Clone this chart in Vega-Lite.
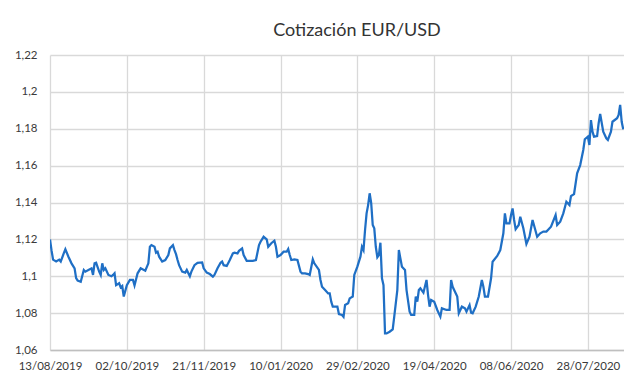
{
  "$schema": "https://vega.github.io/schema/vega-lite/v6.json",
  "width": 574,
  "height": 295,
  "autosize": "none",
  "padding": {"left": 50, "top": 55, "right": 0, "bottom": 35},
  "background": "white",
  "config": {"view": {"stroke": null}, "font": "Lato"},
  "title": {"text": "Cotización EUR/USD", "font": "Lato", "fontSize": 18, "fontWeight": "normal", "color": "#333333", "anchor": "middle", "dx": 20, "dy": 17, "baseline": "alphabetic", "offset": 12},
  "data": {
    "format": {"parse": {"date": "utc:'%Y-%m-%d'"}},
    "values": [
      {"date": "2019-08-13", "rate": 1.120},
      {"date": "2019-08-14", "rate": 1.114},
      {"date": "2019-08-15", "rate": 1.109},
      {"date": "2019-08-17", "rate": 1.108},
      {"date": "2019-08-19", "rate": 1.109},
      {"date": "2019-08-20", "rate": 1.108},
      {"date": "2019-08-22", "rate": 1.1125},
      {"date": "2019-08-23", "rate": 1.1146},
      {"date": "2019-08-25", "rate": 1.1106},
      {"date": "2019-08-27", "rate": 1.107},
      {"date": "2019-08-29", "rate": 1.1043},
      {"date": "2019-08-30", "rate": 1.099},
      {"date": "2019-08-31", "rate": 1.0976},
      {"date": "2019-09-02", "rate": 1.097},
      {"date": "2019-09-04", "rate": 1.1034},
      {"date": "2019-09-05", "rate": 1.1025},
      {"date": "2019-09-07", "rate": 1.1034},
      {"date": "2019-09-09", "rate": 1.1043},
      {"date": "2019-09-10", "rate": 1.1007},
      {"date": "2019-09-11", "rate": 1.107},
      {"date": "2019-09-12", "rate": 1.1073},
      {"date": "2019-09-14", "rate": 1.1025},
      {"date": "2019-09-15", "rate": 1.1007},
      {"date": "2019-09-16", "rate": 1.107},
      {"date": "2019-09-17", "rate": 1.1034},
      {"date": "2019-09-18", "rate": 1.1043},
      {"date": "2019-09-20", "rate": 1.1007},
      {"date": "2019-09-22", "rate": 1.100},
      {"date": "2019-09-23", "rate": 1.1007},
      {"date": "2019-09-24", "rate": 1.1016},
      {"date": "2019-09-25", "rate": 1.0952},
      {"date": "2019-09-27", "rate": 1.0962},
      {"date": "2019-09-28", "rate": 1.094},
      {"date": "2019-09-29", "rate": 1.0947},
      {"date": "2019-09-30", "rate": 1.089},
      {"date": "2019-10-02", "rate": 1.0952},
      {"date": "2019-10-04", "rate": 1.098},
      {"date": "2019-10-06", "rate": 1.098},
      {"date": "2019-10-07", "rate": 1.095},
      {"date": "2019-10-09", "rate": 1.1016},
      {"date": "2019-10-11", "rate": 1.1043},
      {"date": "2019-10-14", "rate": 1.103},
      {"date": "2019-10-16", "rate": 1.107},
      {"date": "2019-10-17", "rate": 1.116},
      {"date": "2019-10-18", "rate": 1.1169},
      {"date": "2019-10-20", "rate": 1.116},
      {"date": "2019-10-21", "rate": 1.1128},
      {"date": "2019-10-22", "rate": 1.1133},
      {"date": "2019-10-23", "rate": 1.1106},
      {"date": "2019-10-25", "rate": 1.108},
      {"date": "2019-10-27", "rate": 1.1088},
      {"date": "2019-10-29", "rate": 1.1115},
      {"date": "2019-10-30", "rate": 1.1151},
      {"date": "2019-11-01", "rate": 1.1169},
      {"date": "2019-11-02", "rate": 1.1142},
      {"date": "2019-11-03", "rate": 1.112},
      {"date": "2019-11-04", "rate": 1.1088},
      {"date": "2019-11-05", "rate": 1.106},
      {"date": "2019-11-07", "rate": 1.1025},
      {"date": "2019-11-09", "rate": 1.102},
      {"date": "2019-11-10", "rate": 1.1034},
      {"date": "2019-11-12", "rate": 1.100},
      {"date": "2019-11-13", "rate": 1.1025},
      {"date": "2019-11-15", "rate": 1.106},
      {"date": "2019-11-17", "rate": 1.1073},
      {"date": "2019-11-20", "rate": 1.1075},
      {"date": "2019-11-21", "rate": 1.1043},
      {"date": "2019-11-23", "rate": 1.102},
      {"date": "2019-11-25", "rate": 1.1012},
      {"date": "2019-11-27", "rate": 1.0998},
      {"date": "2019-11-28", "rate": 1.1007},
      {"date": "2019-11-30", "rate": 1.1043},
      {"date": "2019-12-02", "rate": 1.1073},
      {"date": "2019-12-03", "rate": 1.108},
      {"date": "2019-12-04", "rate": 1.106},
      {"date": "2019-12-06", "rate": 1.1056},
      {"date": "2019-12-08", "rate": 1.1088},
      {"date": "2019-12-10", "rate": 1.1124},
      {"date": "2019-12-11", "rate": 1.1128},
      {"date": "2019-12-13", "rate": 1.1124},
      {"date": "2019-12-14", "rate": 1.1138},
      {"date": "2019-12-16", "rate": 1.1151},
      {"date": "2019-12-17", "rate": 1.1115},
      {"date": "2019-12-19", "rate": 1.1084},
      {"date": "2019-12-21", "rate": 1.1084},
      {"date": "2019-12-23", "rate": 1.1084},
      {"date": "2019-12-25", "rate": 1.1088},
      {"date": "2019-12-27", "rate": 1.1169},
      {"date": "2019-12-28", "rate": 1.1187},
      {"date": "2019-12-30", "rate": 1.1214},
      {"date": "2020-01-01", "rate": 1.12},
      {"date": "2020-01-02", "rate": 1.116},
      {"date": "2020-01-04", "rate": 1.1179},
      {"date": "2020-01-06", "rate": 1.1193},
      {"date": "2020-01-07", "rate": 1.116},
      {"date": "2020-01-08", "rate": 1.1106},
      {"date": "2020-01-10", "rate": 1.1115},
      {"date": "2020-01-12", "rate": 1.1133},
      {"date": "2020-01-14", "rate": 1.1133},
      {"date": "2020-01-15", "rate": 1.1148},
      {"date": "2020-01-16", "rate": 1.1115},
      {"date": "2020-01-17", "rate": 1.1088},
      {"date": "2020-01-19", "rate": 1.1092},
      {"date": "2020-01-21", "rate": 1.1088},
      {"date": "2020-01-23", "rate": 1.1025},
      {"date": "2020-01-24", "rate": 1.1016},
      {"date": "2020-01-26", "rate": 1.1016},
      {"date": "2020-01-28", "rate": 1.1012},
      {"date": "2020-01-29", "rate": 1.1007},
      {"date": "2020-01-31", "rate": 1.1092},
      {"date": "2020-02-01", "rate": 1.107},
      {"date": "2020-02-04", "rate": 1.1034},
      {"date": "2020-02-05", "rate": 1.098},
      {"date": "2020-02-06", "rate": 1.0943},
      {"date": "2020-02-08", "rate": 1.0925},
      {"date": "2020-02-10", "rate": 1.0907},
      {"date": "2020-02-11", "rate": 1.0907},
      {"date": "2020-02-12", "rate": 1.0862},
      {"date": "2020-02-13", "rate": 1.0835},
      {"date": "2020-02-16", "rate": 1.0835},
      {"date": "2020-02-17", "rate": 1.0795},
      {"date": "2020-02-19", "rate": 1.079},
      {"date": "2020-02-20", "rate": 1.078},
      {"date": "2020-02-21", "rate": 1.0844},
      {"date": "2020-02-23", "rate": 1.0853},
      {"date": "2020-02-24", "rate": 1.088},
      {"date": "2020-02-26", "rate": 1.089},
      {"date": "2020-02-27", "rate": 1.1007},
      {"date": "2020-02-29", "rate": 1.1052},
      {"date": "2020-03-02", "rate": 1.1106},
      {"date": "2020-03-03", "rate": 1.116},
      {"date": "2020-03-04", "rate": 1.1142},
      {"date": "2020-03-05", "rate": 1.1251},
      {"date": "2020-03-06", "rate": 1.1341},
      {"date": "2020-03-07", "rate": 1.1386},
      {"date": "2020-03-08", "rate": 1.145},
      {"date": "2020-03-09", "rate": 1.1396},
      {"date": "2020-03-10", "rate": 1.1278},
      {"date": "2020-03-11", "rate": 1.126},
      {"date": "2020-03-12", "rate": 1.116},
      {"date": "2020-03-13", "rate": 1.1103},
      {"date": "2020-03-14", "rate": 1.1115},
      {"date": "2020-03-15", "rate": 1.1182},
      {"date": "2020-03-16", "rate": 1.0989},
      {"date": "2020-03-17", "rate": 1.0952},
      {"date": "2020-03-18", "rate": 1.069},
      {"date": "2020-03-19", "rate": 1.069},
      {"date": "2020-03-21", "rate": 1.0699},
      {"date": "2020-03-23", "rate": 1.0712},
      {"date": "2020-03-24", "rate": 1.0781},
      {"date": "2020-03-26", "rate": 1.0925},
      {"date": "2020-03-27", "rate": 1.1142},
      {"date": "2020-03-28", "rate": 1.1097},
      {"date": "2020-03-29", "rate": 1.1052},
      {"date": "2020-03-31", "rate": 1.1034},
      {"date": "2020-04-01", "rate": 1.0925},
      {"date": "2020-04-03", "rate": 1.0808},
      {"date": "2020-04-04", "rate": 1.079},
      {"date": "2020-04-06", "rate": 1.079},
      {"date": "2020-04-07", "rate": 1.089},
      {"date": "2020-04-08", "rate": 1.0862},
      {"date": "2020-04-09", "rate": 1.0925},
      {"date": "2020-04-10", "rate": 1.0935},
      {"date": "2020-04-12", "rate": 1.0911},
      {"date": "2020-04-14", "rate": 1.098},
      {"date": "2020-04-15", "rate": 1.0898},
      {"date": "2020-04-16", "rate": 1.0835},
      {"date": "2020-04-17", "rate": 1.0871},
      {"date": "2020-04-19", "rate": 1.0862},
      {"date": "2020-04-21", "rate": 1.0817},
      {"date": "2020-04-23", "rate": 1.0781},
      {"date": "2020-04-24", "rate": 1.0826},
      {"date": "2020-04-27", "rate": 1.0817},
      {"date": "2020-04-29", "rate": 1.0817},
      {"date": "2020-04-30", "rate": 1.098},
      {"date": "2020-05-01", "rate": 1.0943},
      {"date": "2020-05-04", "rate": 1.089},
      {"date": "2020-05-05", "rate": 1.0799},
      {"date": "2020-05-07", "rate": 1.0835},
      {"date": "2020-05-09", "rate": 1.0826},
      {"date": "2020-05-10", "rate": 1.0808},
      {"date": "2020-05-12", "rate": 1.0844},
      {"date": "2020-05-13", "rate": 1.0802},
      {"date": "2020-05-14", "rate": 1.0799},
      {"date": "2020-05-16", "rate": 1.0835},
      {"date": "2020-05-18", "rate": 1.089},
      {"date": "2020-05-20", "rate": 1.098},
      {"date": "2020-05-21", "rate": 1.0943},
      {"date": "2020-05-22", "rate": 1.089},
      {"date": "2020-05-24", "rate": 1.089},
      {"date": "2020-05-26", "rate": 1.0989},
      {"date": "2020-05-27", "rate": 1.1079},
      {"date": "2020-05-30", "rate": 1.111},
      {"date": "2020-06-01", "rate": 1.1142},
      {"date": "2020-06-03", "rate": 1.1233},
      {"date": "2020-06-04", "rate": 1.1341},
      {"date": "2020-06-05", "rate": 1.1287},
      {"date": "2020-06-06", "rate": 1.1287},
      {"date": "2020-06-07", "rate": 1.1287},
      {"date": "2020-06-08", "rate": 1.1332},
      {"date": "2020-06-09", "rate": 1.1368},
      {"date": "2020-06-10", "rate": 1.1305},
      {"date": "2020-06-11", "rate": 1.1255},
      {"date": "2020-06-13", "rate": 1.1278},
      {"date": "2020-06-14", "rate": 1.1323},
      {"date": "2020-06-16", "rate": 1.126},
      {"date": "2020-06-18", "rate": 1.1175},
      {"date": "2020-06-20", "rate": 1.1214},
      {"date": "2020-06-22", "rate": 1.1305},
      {"date": "2020-06-25", "rate": 1.1214},
      {"date": "2020-06-27", "rate": 1.1233},
      {"date": "2020-06-29", "rate": 1.1242},
      {"date": "2020-07-01", "rate": 1.1242},
      {"date": "2020-07-02", "rate": 1.1251},
      {"date": "2020-07-04", "rate": 1.1269},
      {"date": "2020-07-07", "rate": 1.1332},
      {"date": "2020-07-08", "rate": 1.1278},
      {"date": "2020-07-10", "rate": 1.1296},
      {"date": "2020-07-12", "rate": 1.1341},
      {"date": "2020-07-14", "rate": 1.1404},
      {"date": "2020-07-16", "rate": 1.1386},
      {"date": "2020-07-17", "rate": 1.1435},
      {"date": "2020-07-19", "rate": 1.1446},
      {"date": "2020-07-21", "rate": 1.1558},
      {"date": "2020-07-23", "rate": 1.1603},
      {"date": "2020-07-25", "rate": 1.1685},
      {"date": "2020-07-26", "rate": 1.1743},
      {"date": "2020-07-28", "rate": 1.1757},
      {"date": "2020-07-29", "rate": 1.1712},
      {"date": "2020-07-30", "rate": 1.1847},
      {"date": "2020-07-31", "rate": 1.1784},
      {"date": "2020-08-01", "rate": 1.1757},
      {"date": "2020-08-03", "rate": 1.176},
      {"date": "2020-08-04", "rate": 1.183},
      {"date": "2020-08-05", "rate": 1.188},
      {"date": "2020-08-07", "rate": 1.1784},
      {"date": "2020-08-09", "rate": 1.1748},
      {"date": "2020-08-10", "rate": 1.1739},
      {"date": "2020-08-12", "rate": 1.1784},
      {"date": "2020-08-13", "rate": 1.1838},
      {"date": "2020-08-16", "rate": 1.1857},
      {"date": "2020-08-17", "rate": 1.1875},
      {"date": "2020-08-18", "rate": 1.1929},
      {"date": "2020-08-19", "rate": 1.1838},
      {"date": "2020-08-20", "rate": 1.1797}
    ]
  },
  "mark": {"type": "line", "color": "#1f6fc5", "strokeWidth": 2.25, "clip": true},
  "encoding": {
    "x": {
      "field": "date",
      "type": "temporal",
      "title": null,
      "scale": {"type": "utc", "domain": [{"year": 2019, "month": 8, "date": 13, "utc": true}, {"year": 2020, "month": 8, "date": 20, "hours": 12, "utc": true}]},
      "axis": {
        "values": [
          {"year": 2019, "month": 8, "date": 13, "utc": true},
          {"year": 2019, "month": 10, "date": 2, "utc": true},
          {"year": 2019, "month": 11, "date": 21, "utc": true},
          {"year": 2020, "month": 1, "date": 10, "utc": true},
          {"year": 2020, "month": 2, "date": 29, "utc": true},
          {"year": 2020, "month": 4, "date": 19, "utc": true},
          {"year": 2020, "month": 6, "date": 8, "utc": true},
          {"year": 2020, "month": 7, "date": 28, "utc": true}
        ],
        "labelExpr": "utcFormat(datum.value, '%d/%m/%Y')",
        "labelFont": "Lato",
        "labelFontSize": 11.5,
        "labelColor": "#3a3a3a",
        "labelPadding": 10,
        "labelOverlap": false,
        "labelBound": false,
        "labelFlush": false,
        "ticks": false,
        "grid": true,
        "gridColor": "#d9d9d9",
        "gridWidth": 1.3,
        "domainColor": "#bfbfbf",
        "domainWidth": 1.3
      }
    },
    "y": {
      "field": "rate",
      "type": "quantitative",
      "title": null,
      "scale": {"domain": [1.06, 1.22], "nice": false, "zero": false},
      "axis": {
        "values": [1.06, 1.08, 1.1, 1.12, 1.14, 1.16, 1.18, 1.2, 1.22],
        "labelExpr": "replace(format(datum.value, '.2~f'), '.', ',')",
        "labelFont": "Lato",
        "labelFontSize": 11.5,
        "labelColor": "#3a3a3a",
        "labelPadding": 13,
        "ticks": false,
        "domain": false,
        "grid": true,
        "gridColor": "#d9d9d9",
        "gridWidth": 1.3
      }
    }
  }
}
